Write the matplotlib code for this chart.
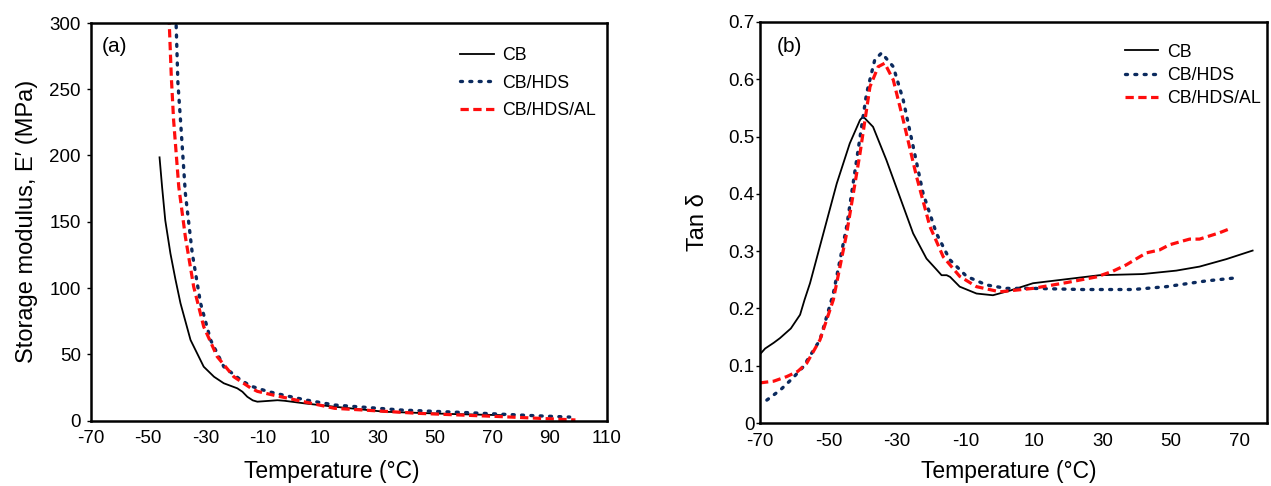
import matplotlib
matplotlib.use("Agg")
import matplotlib.pyplot as plt
from matplotlib.ticker import FuncFormatter

plt.rcParams['font.family'] = ['Liberation Sans', 'DejaVu Sans']
plt.rcParams['axes.unicode_minus'] = False

# ---- (a) storage modulus vs temperature ----
temp_a_cb = [-46.0, -45.1, -44.0, -42.2, -40.5, -38.7, -35.2, -30.6, -27.0, -23.6,
             -18.9, -17.1, -15.4, -13.5, -11.9, -8.0, -4.9, -2.5, 5.0, 15.0, 32.5, 55.8, 74.0]
mod_cb = [198.6, 176, 151, 126, 107, 88.5, 60.8, 40.6, 33, 28.1,
          24.3, 21.7, 17.9, 15.2, 14.2, 14.8, 15.3, 14.9, 12.8, 10.4, 6.6, 4.9, 4.0]

temp_a_hds = [-40.3, -39.6, -38.7, -37.0, -34.6, -31.7, -28.2, -23.6, -17.7, -14.2,
              -8.4, -2.5, 5.0, 15.0, 38.3, 61.7, 85.0, 97.0]
mod_hds = [305, 255, 226.8, 171.5, 126.3, 88.5, 60.8, 40.6, 30.6, 26,
           22, 19, 15.5, 11.7, 7.9, 5.9, 3.6, 2.6]

temp_a_al = [-42.7, -41.9, -41.1, -39.3, -37.0, -34.1, -30.6, -25.9, -20.1, -14.2,
             -11.9, -6.0, -1.3, 15.0, 44.2, 73.4, 99.0]
mod_al = [305, 259.5, 226.8, 176.5, 138.7, 101, 70.8, 48.2, 33, 24.5,
          22, 19, 16.8, 9.2, 5.4, 2.9, 0.4]

# ---- (b) tan delta vs temperature ----
temp_b_cb = [-70, -68.5, -66, -64.2, -61, -58.3, -57.0, -55.4, -51.5, -47.6, -43.8, -40.8,
             -39.9, -37, -33.1, -29.2, -25.3, -21.4, -18.5, -17.0, -15.5, -14.5, -11.7, -6.8,
             -2.0, 2.9, 9.7, 19.4, 29.1, 41.7, 51.5, 58.3, 66.1, 73.8]
tan_cb = [0.120, 0.130, 0.140, 0.148, 0.165, 0.189, 0.215, 0.244, 0.331, 0.418, 0.488, 0.529,
          0.535, 0.517, 0.459, 0.395, 0.331, 0.287, 0.268, 0.258, 0.258, 0.255, 0.238, 0.226,
          0.223, 0.231, 0.244, 0.251, 0.258, 0.260, 0.266, 0.273, 0.286, 0.301]

temp_b_hds = [-68.0, -64.0, -60.5, -57.4, -54.9, -52.5, -48.6, -44.7, -41.8, -38.9, -36.5,
              -34.5, -31.1, -28.2, -25.3, -22.4, -18.5, -14.6, -9.7, -3.9, 1.9, 9.7, 24.2,
              38.9, 48.6, 60.2, 70.0]
tan_hds = [0.040, 0.058, 0.078, 0.098, 0.122, 0.145, 0.226, 0.343, 0.459, 0.575, 0.634,
           0.646, 0.622, 0.564, 0.483, 0.401, 0.331, 0.285, 0.256, 0.241, 0.235, 0.235, 0.233,
           0.233, 0.238, 0.248, 0.254]

temp_b_al = [-70, -66, -62.2, -59, -56.4, -52.5, -48.6, -44.7, -40.8, -37.9, -35.5, -33.6,
             -31.1, -28.2, -24.3, -20.4, -16.5, -11.7, -6.8, 0, 9.7, 19.4, 28.2, 33, 36.9,
             40.8, 42.8, 46.6, 49.5, 52.4, 55.4, 58.3, 64.1, 67.5]
tan_al = [0.070, 0.073, 0.081, 0.090, 0.104, 0.145, 0.215, 0.331, 0.471, 0.587, 0.622, 0.628,
          0.599, 0.529, 0.430, 0.343, 0.290, 0.256, 0.238, 0.229, 0.235, 0.245, 0.255, 0.265,
          0.276, 0.290, 0.297, 0.302, 0.311, 0.316, 0.321, 0.321, 0.332, 0.340]

series_labels = ['CB', 'CB/HDS', 'CB/HDS/AL']
xticks_a = list(range(-70, 111, 20))
yticks_a = list(range(0, 301, 50))
xticks_b = list(range(-70, 71, 20))
yticks_b = [0, 0.1, 0.2, 0.3, 0.4, 0.5, 0.6, 0.7]

style_cb = dict(color='black', lw=1.3, ls='-')
style_hds = dict(color='#0b2a5e', lw=2.4, ls=(0, (0.6, 2.2)), dash_capstyle='round')
style_al = dict(color='#ff0d0d', lw=2.3, ls=(0, (2.6, 1.4)))

fig = plt.figure(figsize=(12.71, 4.86), dpi=100)
ax1 = fig.add_axes([90.7 / 1271, 1 - 420.5 / 486, (607 - 90.7) / 1271, (420.5 - 23) / 486])
ax2 = fig.add_axes([760 / 1271, 1 - 423 / 486, (1267 - 760) / 1271, (423 - 22) / 486])

ax1.plot(temp_a_cb, mod_cb, label=series_labels[0], **style_cb)
ax1.plot(temp_a_hds, mod_hds, label=series_labels[1], **style_hds)
ax1.plot(temp_a_al, mod_al, label=series_labels[2], **style_al)
ax1.set_xlim(-70, 110)
ax1.set_ylim(0, 300)
ax1.set_xticks(xticks_a)
ax1.set_yticks(yticks_a)

ax2.plot(temp_b_cb, tan_cb, label=series_labels[0], **style_cb)
ax2.plot(temp_b_hds, tan_hds, label=series_labels[1], **style_hds)
ax2.plot(temp_b_al, tan_al, label=series_labels[2], **style_al)
ax2.set_xlim(-70, 78)
ax2.set_ylim(0, 0.7)
ax2.set_xticks(xticks_b)
ax2.set_yticks(yticks_b)
ax2.yaxis.set_major_formatter(FuncFormatter(lambda v, p: '0' if abs(v) < 1e-9 else f'{v:.1f}'))

for ax in (ax1, ax2):
    for sp in ax.spines.values():
        sp.set_linewidth(1.8)
    ax.tick_params(axis='x', length=0, pad=7, labelsize=13.5)
    ax.tick_params(axis='y', direction='out', length=3, width=1, labelsize=13.5)

ax1.tick_params(axis='y', pad=4)
ax2.tick_params(axis='y', pad=1)

ax1.set_xlabel('Temperature (°C)', fontsize=16.5)
ax1.xaxis.set_label_coords(0.467, -0.099)
ax1.set_ylabel('Storage modulus, E′ (MPa)', fontsize=17, labelpad=8)
ax2.set_xlabel('Temperature (°C)', fontsize=16.5)
ax2.xaxis.set_label_coords(0.49, -0.092)
ax2.set_ylabel('Tan δ', fontsize=17, labelpad=14)

ax1.text(0.021, 0.941, '(a)', transform=ax1.transAxes, fontsize=15, va='center', ha='left')
ax2.text(0.033, 0.939, '(b)', transform=ax2.transAxes, fontsize=15, va='center', ha='left')

ax1.legend(loc='upper left', bbox_to_anchor=(0.715, 0.94), frameon=False, fontsize=12.8,
           handlelength=1.9, handletextpad=0.45, labelspacing=0.6, borderpad=0, borderaxespad=0)
ax2.legend(loc='upper left', bbox_to_anchor=(0.72, 0.946), frameon=False, fontsize=12.8,
           handlelength=1.85, handletextpad=0.5, labelspacing=0.36, borderpad=0, borderaxespad=0)

fig.savefig('out.png', dpi=100)
